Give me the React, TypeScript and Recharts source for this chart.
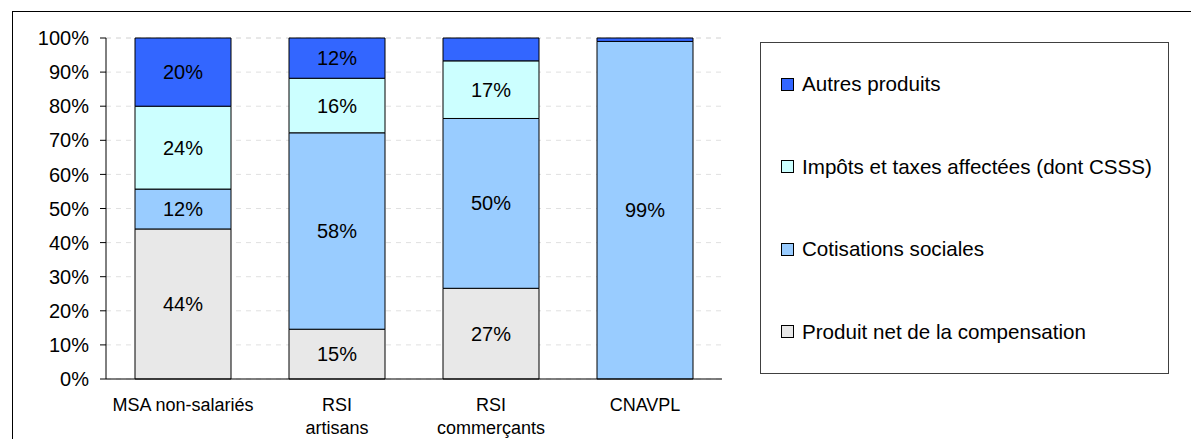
import React from 'react';
import { BarChart, Bar, XAxis, YAxis, CartesianGrid, LabelList } from 'recharts';

const categories = ['MSA non-salariés', 'RSI\nartisans', 'RSI\ncommerçants', 'CNAVPL'];
const produitNet = [44, 14.6, 26.6, 0];
const cotisations = [11.7, 57.6, 49.8, 99];
const impots = [24.3, 16, 16.9, 0];
const autres = [20, 11.8, 6.7, 1];
const yTicks = [0, 10, 20, 30, 40, 50, 60, 70, 80, 90, 100];
const boundaryTicks = [0, 1, 2, 3, 4];

const series = [
  { key: 'produit', name: 'Produit net de la compensation', values: produitNet, color: '#E8E8E8' },
  { key: 'cotisations', name: 'Cotisations sociales', values: cotisations, color: '#99CCFF' },
  { key: 'impots', name: 'Impôts et taxes affectées (dont CSSS)', values: impots, color: '#CCFFFF' },
  { key: 'autres', name: 'Autres produits', values: autres, color: '#3366FF' },
];

const data = categories.map((cat, i) => {
  const row: Record<string, any> = { cat, pos: i };
  series.forEach((s) => {
    row[s.key] = s.values[i];
  });
  return row;
});

const CatTick = (props: any) => {
  const { x, y, payload } = props;
  const lines = String(payload.value).split('\n');
  return (
    <text x={x} y={y} textAnchor="middle" fontSize={18} fill="#000">
      {lines.map((l, i) => (
        <tspan key={i} x={x} dy={i === 0 ? 32 : 23}>
          {l}
        </tspan>
      ))}
    </text>
  );
};

const fmt = (v: any) => (Number(v) >= 10 ? `${Math.round(Number(v))}%` : '');

export default function App() {
  return (
    <div
      style={{
        position: 'absolute',
        left: 0,
        top: 0,
        width: 1191,
        height: 439,
        overflow: 'hidden',
        background: '#fff',
        fontFamily: '"Liberation Sans", Arial, sans-serif',
      }}
    >
      <div
        style={{
          position: 'absolute',
          left: 12,
          top: 11,
          width: 1200,
          height: 450,
          borderTop: '1px solid #000',
          borderLeft: '1px solid #000',
        }}
      />
      <div style={{ position: 'absolute', left: 0, top: 0 }}>
        <BarChart
          width={1191}
          height={439}
          data={data}
          margin={{ top: 38, right: 469, bottom: 0, left: 46 }}
          barCategoryGap={29}
        >
          <CartesianGrid vertical={false} stroke="#E0E0E0" strokeDasharray="5 5" />
          <XAxis
            xAxisId={0}
            type="number"
            dataKey="pos"
            domain={[0, 4]}
            ticks={boundaryTicks}
            tick={false}
            axisLine={false}
            tickLine={{ stroke: '#000' }}
            tickSize={6}
            height={0}
            allowDataOverflow
          />
          <XAxis
            xAxisId="cat"
            dataKey="cat"
            type="category"
            height={60}
            tickLine={false}
            tickSize={0}
            tickMargin={0}
            axisLine={{ stroke: '#000' }}
            tick={<CatTick />}
            interval={0}
          />
          <XAxis
            xAxisId="top"
            orientation="top"
            type="number"
            dataKey="pos"
            domain={[0, 4]}
            height={0}
            tick={false}
            tickLine={false}
            axisLine={{ stroke: '#808080' }}
            allowDataOverflow
          />
          <YAxis
            yAxisId={0}
            type="number"
            domain={[0, 100]}
            ticks={yTicks}
            width={60}
            tickSize={6}
            tickMargin={11}
            tickFormatter={(v: number) => `${v}%`}
            tick={{ fontSize: 20, fill: '#000' }}
            axisLine={{ stroke: '#000' }}
            tickLine={{ stroke: '#000' }}
            interval={0}
          />
          <YAxis
            yAxisId="right"
            orientation="right"
            type="number"
            domain={[0, 100]}
            width={0}
            tick={false}
            tickLine={false}
            axisLine={{ stroke: '#808080' }}
          />
          {series.map((s) => (
            <Bar
              key={s.key}
              dataKey={s.key}
              name={s.name}
              stackId="a"
              xAxisId="cat"
              yAxisId={0}
              fill={s.color}
              stroke="#000"
              strokeWidth={1}
              isAnimationActive={false}
            >
              <LabelList dataKey={s.key} position="center" formatter={fmt} fill="#000" fontSize={20} />
            </Bar>
          ))}
        </BarChart>
      </div>
      <div
        style={{
          position: 'absolute',
          left: 760,
          top: 42,
          width: 407,
          height: 330,
          border: '1px solid #404040',
          display: 'flex',
          flexDirection: 'column',
          justifyContent: 'space-around',
          boxSizing: 'content-box',
        }}
      >
        {[...series].reverse().map((s) => (
          <div key={s.key} style={{ display: 'flex', alignItems: 'center', paddingLeft: 20, height: 24 }}>
            <div
              style={{
                width: 11,
                height: 11,
                background: s.color,
                border: '1px solid #000',
                marginRight: 8,
                flexShrink: 0,
              }}
            />
            <span style={{ fontSize: 20.6, color: '#000', whiteSpace: 'nowrap', lineHeight: '24px' }}>{s.name}</span>
          </div>
        ))}
      </div>
    </div>
  );
}
